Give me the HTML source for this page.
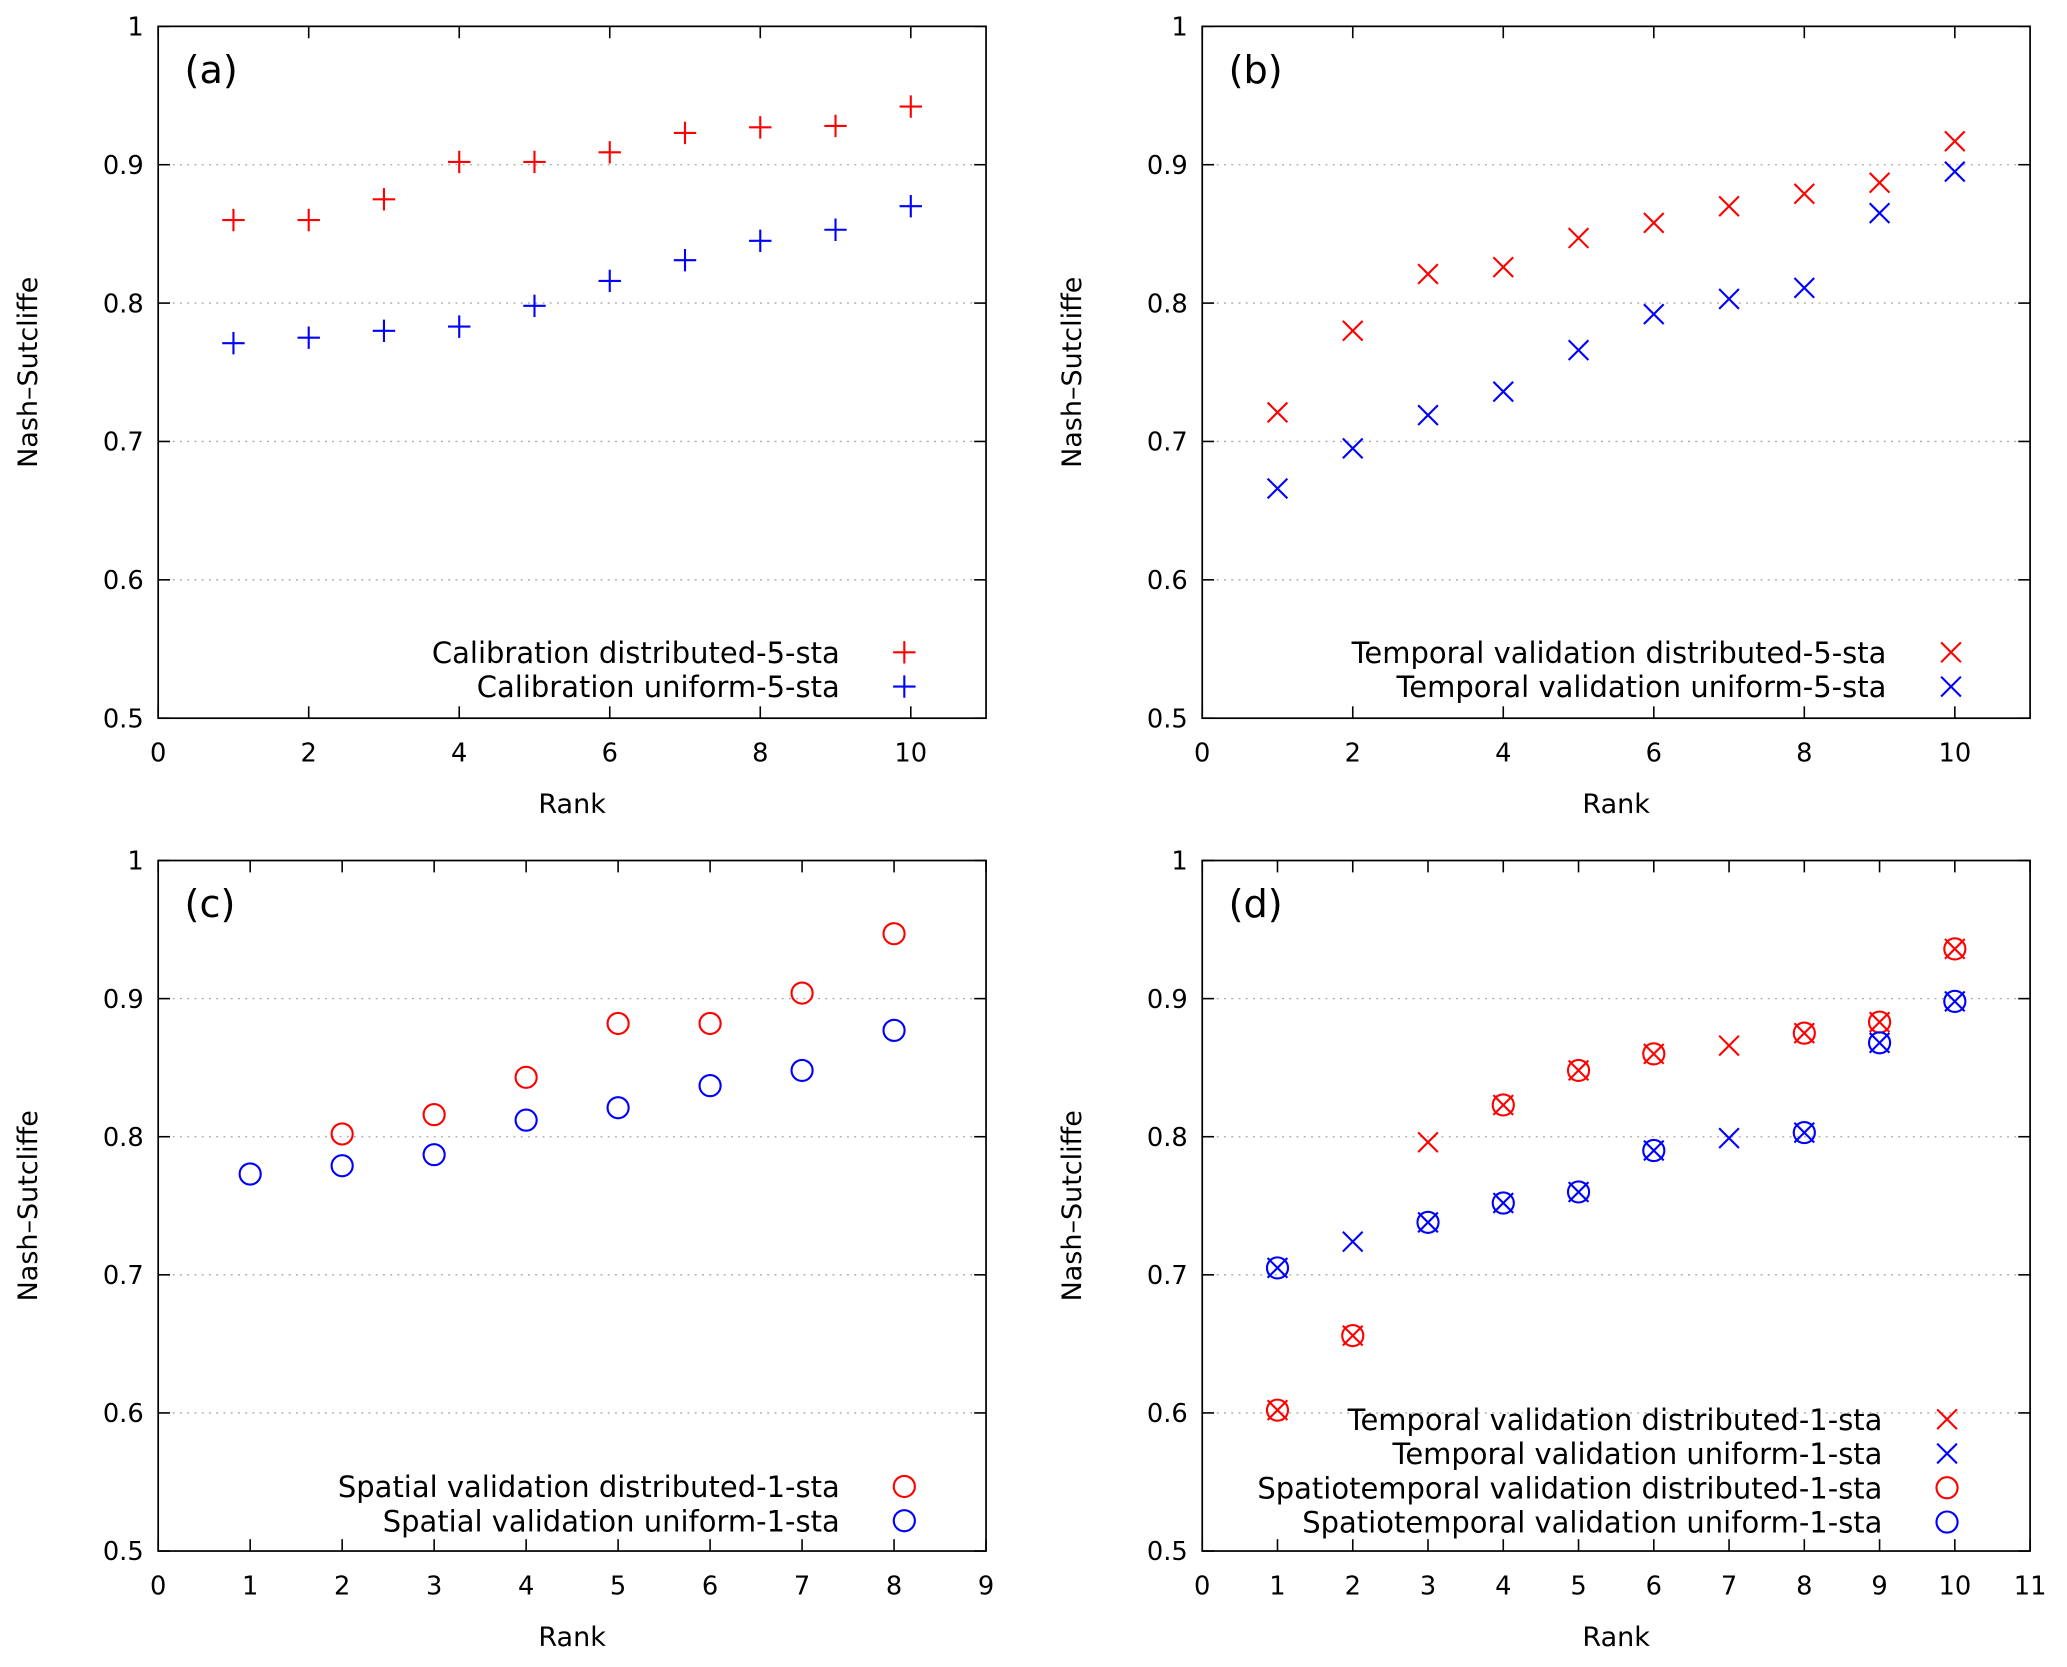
<!DOCTYPE html>
<html><head><meta charset="utf-8"><style>
html,body{margin:0;padding:0;background:#fff}
svg{display:block}
text{font-family:"DejaVu Sans","Liberation Sans",sans-serif;fill:#000}
</style></head><body>
<svg id="fig" width="2067" height="1667" viewBox="0 0 1568 1265" preserveAspectRatio="none" xmlns="http://www.w3.org/2000/svg"></svg>
<script>
const aRanks=[1,2,3,4,5,6,7,8,9,10];
const aDist=[0.86,0.86,0.875,0.902,0.902,0.909,0.923,0.927,0.928,0.942];
const aUni=[0.771,0.775,0.780,0.783,0.798,0.816,0.831,0.845,0.853,0.870];
const bRanks=[1,2,3,4,5,6,7,8,9,10];
const bDist=[0.721,0.780,0.821,0.826,0.847,0.858,0.870,0.879,0.887,0.917];
const bUni=[0.666,0.695,0.719,0.736,0.766,0.792,0.803,0.811,0.865,0.895];
const cDistRanks=[2,3,4,5,6,7,8];
const cDist=[0.802,0.816,0.843,0.882,0.882,0.904,0.947];
const cUniRanks=[1,2,3,4,5,6,7,8];
const cUni=[0.773,0.779,0.787,0.812,0.821,0.837,0.848,0.877];
const dTRanks=[1,2,3,4,5,6,7,8,9,10];
const dTDist=[0.602,0.656,0.796,0.823,0.848,0.860,0.866,0.875,0.883,0.936];
const dTUni=[0.705,0.724,0.738,0.752,0.760,0.790,0.799,0.803,0.868,0.898];
const dSDistRanks=[1,2,4,5,6,8,9,10];
const dSDist=[0.602,0.656,0.823,0.848,0.860,0.875,0.883,0.936];
const dSUniRanks=[1,3,4,5,6,8,9,10];
const dSUni=[0.705,0.738,0.752,0.760,0.790,0.803,0.868,0.898];
const yTicks=[0.5,0.6,0.7,0.8,0.9,1];
const yTickLabels=["0.5","0.6","0.7","0.8","0.9","1"];

const NS="http://www.w3.org/2000/svg";
const svg=document.getElementById('fig');
function el(tag,attrs,parent,txt){const e=document.createElementNS(NS,tag);for(const k in attrs)e.setAttribute(k,attrs[k]);if(txt!==undefined)e.textContent=txt;(parent||svg).appendChild(e);return e;}

function marker(g,type,cx,cy,color){
  const s=8.5;
  if(type==='plus'){el('path',{d:`M${cx-s} ${cy}H${cx+s}M${cx} ${cy-s}V${cy+s}`,stroke:color,'stroke-width':1.6,fill:'none'},g);}
  if(type==='x'||type==='ox'){const t=7.5;el('path',{d:`M${cx-t} ${cy-t}L${cx+t} ${cy+t}M${cx-t} ${cy+t}L${cx+t} ${cy-t}`,stroke:color,'stroke-width':1.6,fill:'none'},g);}
  if(type==='o'||type==='ox'){el('circle',{cx,cy,r:8,stroke:color,'stroke-width':1.6,fill:'none'},g);}
}

function panel(name,x0,y0,x1,y1,xmax,xstep,label,series,legendEnd,legendY){
  const g=el('g',{},svg);
  
  
  const sx=v=>x0+(x1-x0)*v/xmax;
  const sy=v=>y1-(y1-y0)*(v-0.5)/0.5;
  yTicks.forEach((t,i)=>{
    const y=sy(t);
    if(t>0.5&&t<1){const gl=el('line',{x1:x0,x2:x1,y1:y,y2:y,stroke:'#aaa','stroke-width':1,'stroke-dasharray':'1.5,4'},g);}
    el('line',{x1:x0,x2:x0+9,y1:y,y2:y,stroke:'#000','stroke-width':1.2},g);
    el('line',{x1:x1,x2:x1-9,y1:y,y2:y,stroke:'#000','stroke-width':1.2},g);
    const tl=el('text',{x:x0-11,y:y+7,'text-anchor':'end','font-size':19.5},g,yTickLabels[i]);
    
  });
  for(let v=0;v<=xmax;v+=xstep){
    const x=sx(v);
    el('line',{x1:x,x2:x,y1:y1,y2:y1-9,stroke:'#000','stroke-width':1.2},g);
    el('line',{x1:x,x2:x,y1:y0,y2:y0+9,stroke:'#000','stroke-width':1.2},g);
    const tl=el('text',{x:x,y:y1+33,'text-anchor':'middle','font-size':19.5},g,String(v));
    
  }
  const fr=el('rect',{x:x0,y:y0,width:x1-x0,height:y1-y0,fill:'none',stroke:'#000','stroke-width':1.3},g);
  
  const xt=el('text',{x:(x0+x1)/2,y:y1+72,'text-anchor':'middle','font-size':20.5},g,'Rank');
  
  const yc=(y0+y1)/2;
  const yt=el('text',{x:x0-92,y:yc,'text-anchor':'middle','font-size':20.5,transform:`rotate(-90 ${x0-92} ${yc})`},g,'Nash–Sutcliffe');
  
  const pl=el('text',{x:x0+20,y:y0+43,'font-size':29},g,label);
  
  series.forEach((s,si)=>{
    const sg=el('g',{},g);
    
    
    s.xs.forEach((r,i)=>marker(sg,s.type,sx(r),sy(s.ys[i]),s.color));
    const ly=legendY+si*26;
    const lt=el('text',{x:legendEnd,y:ly+8,'text-anchor':'end','font-size':22},g,s.name);
    
    const lg=el('g',{},g);
    
    
    marker(lg,s.type,legendEnd+49,ly,s.color);
  });
}
const R='#ff0000',B='#0000ff';
panel('a',120,20,748,545,11,2,'(a)',[
 {id:'cal-dist',name:'Calibration distributed-5-sta',type:'plus',color:R,xs:aRanks,ys:aDist},
 {id:'cal-uni',name:'Calibration uniform-5-sta',type:'plus',color:B,xs:aRanks,ys:aUni}],637,495);
panel('b',912,20,1540,545,11,2,'(b)',[
 {id:'temp-dist',name:'Temporal validation distributed-5-sta',type:'x',color:R,xs:bRanks,ys:bDist},
 {id:'temp-uni',name:'Temporal validation uniform-5-sta',type:'x',color:B,xs:bRanks,ys:bUni}],1431,495);
panel('c',120,653,748,1177,9,1,'(c)',[
 {id:'spat-dist',name:'Spatial validation distributed-1-sta',type:'o',color:R,xs:cDistRanks,ys:cDist},
 {id:'spat-uni',name:'Spatial validation uniform-1-sta',type:'o',color:B,xs:cUniRanks,ys:cUni}],637,1128);
panel('d',912,653,1540,1177,11,1,'(d)',[
 {id:'temp1-dist',name:'Temporal validation distributed-1-sta',type:'x',color:R,xs:dTRanks,ys:dTDist},
 {id:'temp1-uni',name:'Temporal validation uniform-1-sta',type:'x',color:B,xs:dTRanks,ys:dTUni},
 {id:'st-dist',name:'Spatiotemporal validation distributed-1-sta',type:'o',color:R,xs:dSDistRanks,ys:dSDist},
 {id:'st-uni',name:'Spatiotemporal validation uniform-1-sta',type:'o',color:B,xs:dSUniRanks,ys:dSUni}],1428,1077);
</script>
</body></html>
